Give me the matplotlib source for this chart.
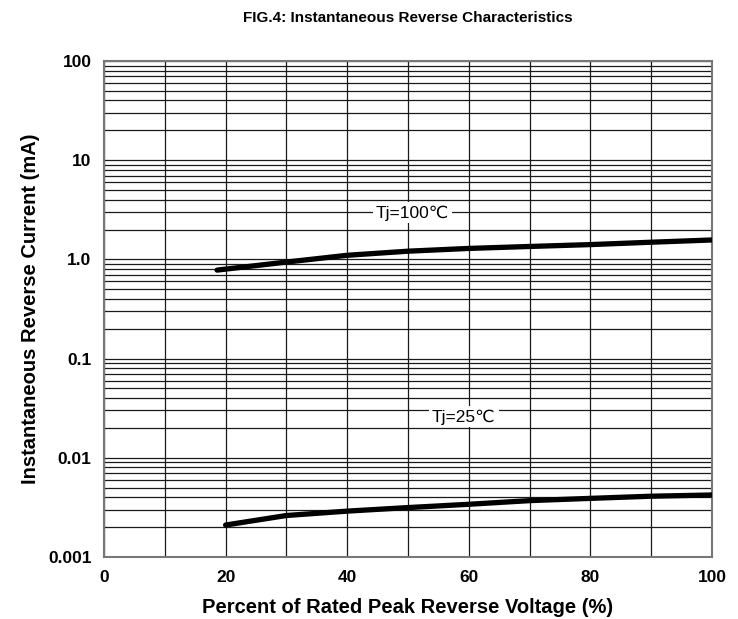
import numpy as np
import matplotlib
matplotlib.use('Agg')
import matplotlib.pyplot as plt
from matplotlib.ticker import LogLocator, FixedLocator, NullFormatter

plt.rcParams['font.family'] = ['Liberation Sans', 'DejaVu Sans']

# percent of rated peak reverse voltage (%)
pct_100 = [18.6, 30, 40, 50, 60, 70, 80, 90, 100]
ir_100 = [0.78, 0.94, 1.10, 1.21, 1.29, 1.35, 1.41, 1.49, 1.57]   # Tj=100C, mA

pct_25 = [20, 30, 40, 50, 60, 70, 80, 90, 100]
ir_25 = [0.0021, 0.00262, 0.0029, 0.00315, 0.0034, 0.0037, 0.0039, 0.0041, 0.00422]  # Tj=25C, mA

y_ticks = [0.001, 0.01, 0.1, 1.0, 10, 100]
y_ticklabels = ['0.001', '0.01', '0.1', '1.0', '10', '100']
x_ticks = [0, 20, 40, 60, 80, 100]

fig = plt.figure(figsize=(7.38, 6.19), dpi=100)
ax = fig.add_axes([104/738, 1-557/619, 608/738, 496/619])

ax.set_yscale('log')
ax.set_xlim(0, 100)
ax.set_ylim(0.001, 100)

ax.plot(pct_100, ir_100, color='black', lw=3.8, solid_capstyle='round', zorder=5)
ax.plot(pct_25, ir_25, color='black', lw=3.8, solid_capstyle='round', zorder=5)

ax.text(50.7, 2.94, 'Tj=100\u2103', fontsize=12.5, ha='center', va='center', zorder=6,
        bbox=dict(facecolor='white', edgecolor='none', pad=2))
ax.text(59.2, 0.0258, 'Tj=25\u2103', fontsize=12.5, ha='center', va='center', zorder=6,
        bbox=dict(facecolor='white', edgecolor='none', pad=2))

# grid
ax.xaxis.set_major_locator(FixedLocator(x_ticks))
ax.xaxis.set_minor_locator(FixedLocator(np.arange(0, 101, 10)))
ax.yaxis.set_major_locator(FixedLocator(y_ticks))
ax.yaxis.set_minor_locator(LogLocator(base=10, subs=np.arange(2, 10)))
ax.yaxis.set_minor_formatter(NullFormatter())
ax.set_yticklabels(y_ticklabels)
ax.grid(True, which='both', color='#1a1a1a', lw=0.9)
ax.set_axisbelow(True)

ax.tick_params(which='both', length=0)
ax.tick_params(axis='y', pad=9, labelsize=12.5)
ax.tick_params(axis='x', pad=9, labelsize=12.5)
for lab in ax.get_xticklabels() + ax.get_yticklabels():
    lab.set_fontweight('bold')

for s in ax.spines.values():
    s.set_color('#777777')
    s.set_linewidth(1.5)

ax.set_xlabel('Percent of Rated Peak Reverse Voltage (%)', fontsize=14.5, fontweight='bold', labelpad=10)
ax.set_ylabel('Instantaneous Reverse Current (mA)', fontsize=14.5, fontweight='bold', labelpad=6)
fig.text(408/738, 1-18/619, 'FIG.4: Instantaneous Reverse Characteristics', fontsize=11,
         fontweight='bold', ha='center', va='center')

fig.savefig('out.png', dpi=100)
